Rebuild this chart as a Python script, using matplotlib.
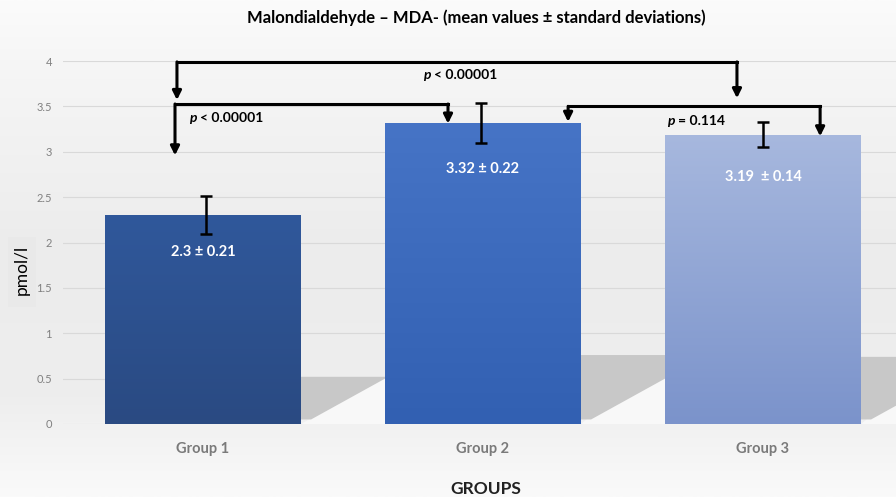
import matplotlib
matplotlib.use("Agg")
import matplotlib.pyplot as plt
import numpy as np
from matplotlib.colors import LinearSegmentedColormap
from matplotlib.patches import Polygon, Rectangle

groups = ["Group 1", "Group 2", "Group 3"]
means = [2.30, 3.32, 3.19]
sds = [0.21, 0.22, 0.14]
bar_labels = ["2.3 ± 0.21", "3.32 ± 0.22", "3.19  ± 0.14"]
yticks = [0, 0.5, 1, 1.5, 2, 2.5, 3, 3.5, 4]
ytick_labels = ["0", "0.5", "1", "1.5", "2", "2.5", "3", "3.5", "4"]
top_colors = ["#30589b", "#4674c6", "#a7b8de"]
bottom_colors = ["#2a4a82", "#3260b2", "#7b93cb"]
shadow_heights = [0.52, 0.76, 0.74]
title = "Malondialdehyde – MDA- (mean values ± standard deviations)"

fig = plt.figure(figsize=(8.96, 4.97), dpi=100, facecolor="#f6f6f6")

# figure background gradient
bg = fig.add_axes([0, 0, 1, 1], zorder=-1)
bg.set_axis_off()
bg_cmap = LinearSegmentedColormap.from_list(
    "bg", [(0.0, "#fbfbfb"), (0.12, "#f6f6f6"), (0.5, "#ececec"), (0.8, "#eeeeee"), (1.0, "#fafafa")])
bg.imshow(np.linspace(0, 1, 256).reshape(-1, 1), cmap=bg_cmap, aspect="auto",
          extent=(0, 1, 0, 1), origin="upper")
bg.set_xlim(0, 1)
bg.set_ylim(0, 1)
bg.add_patch(Rectangle((8/896, 1-307/497), 28/896, 70/497, facecolor="#e9e9e9", edgecolor="none"))

ax = fig.add_axes([63/896, 1-424/497, 1-63/896, (424-61)/497])
ax.set_facecolor("none")
ax.set_xlim(-0.5, 2.475)
ax.set_ylim(0, 4)

x = np.arange(len(groups))
width = 0.70

for t in yticks:
    ax.axhline(t, color="#d9d9d9", lw=0.8, zorder=0.5)

# floor shadows
for i in range(len(groups)):
    xr = x[i] + width/2
    gap = 1 - width
    hs = shadow_heights[i]
    ax.add_patch(Polygon([(xr, 0.0), (xr + gap, 0.0), (xr + gap, hs)], closed=True,
                         facecolor="#f8f8f8", edgecolor="none", zorder=0.6))
    ax.add_patch(Polygon([(xr, hs), (xr + gap, hs), (xr + gap, min(hs, 0.5)),
                          (xr + 0.12*gap, 0.05), (xr, 0.05)], closed=True,
                         facecolor="#c8c8c8", edgecolor="none", zorder=0.7))

bars = ax.bar(x, means, width=width, color=top_colors, zorder=2)
for i, b in enumerate(bars):
    cmap = LinearSegmentedColormap.from_list("g%d" % i, [bottom_colors[i], top_colors[i]])
    grad = np.linspace(0, 1, 256).reshape(-1, 1)
    im = ax.imshow(grad, cmap=cmap, aspect="auto", origin="lower",
                   extent=(b.get_x(), b.get_x() + b.get_width(), 0, b.get_height()), zorder=2.1)
    im.set_clip_path(b)
ax.set_xlim(-0.5, 2.475)
ax.set_ylim(0, 4)

ax.errorbar(x + np.array([0.01, -0.007, 0.0]), means, yerr=sds, fmt="none", ecolor="black",
            elinewidth=1.8, capsize=4, capthick=1.8, zorder=3)

label_offsets = [0.41, 0.51, 0.47]
for i in range(len(groups)):
    ax.text(x[i], means[i] - label_offsets[i], bar_labels[i], ha="center", va="center", color="white",
            fontsize=10.5, fontweight="bold", family="Lato", zorder=4)

def bracket(x1, x2, yh, tip1, tip2):
    ax.plot([x1, x2], [yh, yh], color="black", lw=2.2, solid_capstyle="projecting", zorder=5, clip_on=False)
    for xx, tip in ((x1, tip1), (x2, tip2)):
        ax.annotate("", xy=(xx, tip), xytext=(xx, yh), annotation_clip=False,
                    arrowprops=dict(arrowstyle="-|>", lw=2.2, color="black", mutation_scale=13,
                                    shrinkA=0, shrinkB=0), zorder=5)

bracket(-0.093, 1.907, 3.99, 3.57, 3.59)
bracket(-0.100, 0.875, 3.526, 2.96, 3.31)
bracket(1.304, 2.204, 3.50, 3.33, 3.17)

def ptext(xs, y, rest):
    ax.text(xs - 0.004, y, "p", ha="right", va="center", fontsize=10, fontweight="bold",
            style="italic", family="Lato", zorder=6)
    ax.text(xs + 0.008, y, rest, ha="left", va="center", fontsize=10, fontweight="bold",
            family="Lato", zorder=6)

ptext(0.818, 3.85, "< 0.00001")
ptext(-0.018, 3.37, "< 0.00001")
ptext(1.689, 3.34, "= 0.114")

for s in ax.spines.values():
    s.set_visible(False)
ax.set_yticks(yticks)
ax.set_yticklabels(ytick_labels, fontsize=8, color="#808080", family="Lato")
ax.tick_params(axis="y", length=0, pad=8)
ax.set_xticks(x)
ax.set_xticklabels(groups, fontsize=10.5, color="#7a7a7a", fontweight="bold", family="Lato")
ax.tick_params(axis="x", length=0, pad=13)

fig.text(476/896, 1-18/497, title, ha="center", va="center", fontsize=12, fontweight="bold", family="Lato")
fig.text(486/896, 1-489/497, "GROUPS", ha="center", va="center", fontsize=12.5, fontweight="bold",
         color="#222222", family="Lato")
fig.text(22/896, 1-270/497, "pmol/l", rotation=90, ha="center", va="center", fontsize=12.5,
         family="Lato", color="black")

fig.savefig("out.png", dpi=100, facecolor=fig.get_facecolor())
